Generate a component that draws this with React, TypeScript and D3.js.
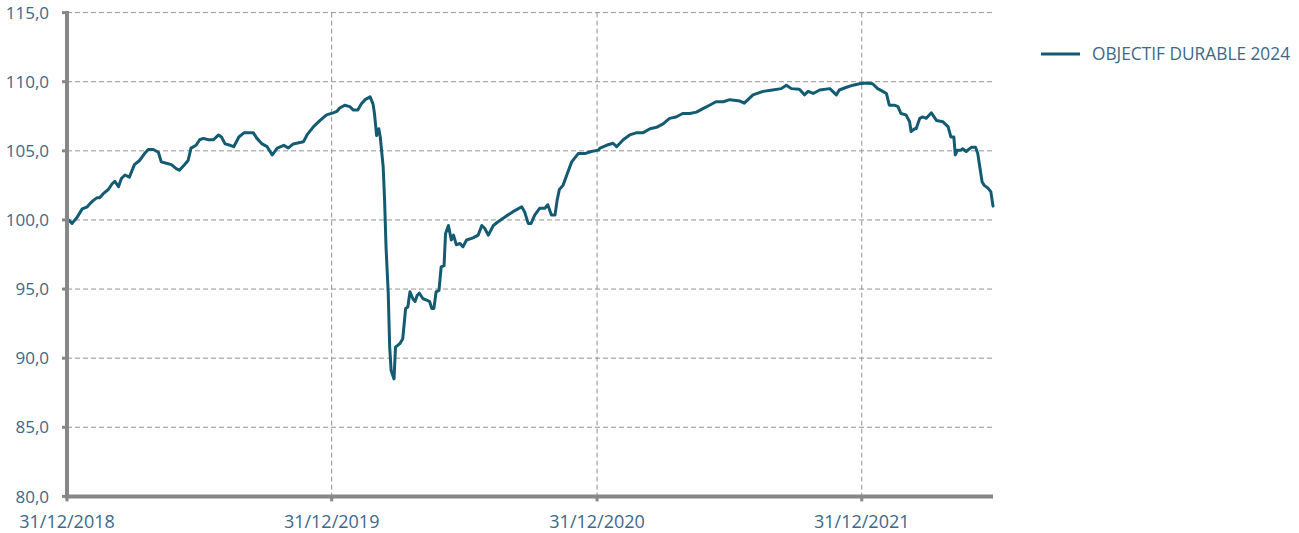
import React from "react";
import * as d3 from "d3";

const seriesName = "OBJECTIF DURABLE 2024";

const dates = [
  "2018-12-31","2019-01-02","2019-01-07","2019-01-14","2019-01-21","2019-01-28","2019-02-01","2019-02-05","2019-02-10","2019-02-14",
  "2019-02-19","2019-02-26","2019-03-03","2019-03-07","2019-03-12","2019-03-16","2019-03-21","2019-03-27","2019-04-03","2019-04-10",
  "2019-04-17","2019-04-22","2019-04-29","2019-05-06","2019-05-10","2019-05-17","2019-05-24","2019-05-31","2019-06-04","2019-06-11",
  "2019-06-16","2019-06-20","2019-06-27","2019-07-02","2019-07-07","2019-07-14","2019-07-21","2019-07-28","2019-08-01","2019-08-06",
  "2019-08-13","2019-08-18","2019-08-25","2019-09-01","2019-09-14","2019-09-19","2019-09-26","2019-10-03","2019-10-10","2019-10-17",
  "2019-10-26","2019-11-01","2019-11-08","2019-11-22","2019-11-27","2019-12-06","2019-12-15","2019-12-24","2020-01-02","2020-01-07",
  "2020-01-11","2020-01-18","2020-01-25","2020-01-30","2020-02-05","2020-02-10","2020-02-15","2020-02-22","2020-02-26","2020-02-28",
  "2020-03-02","2020-03-05","2020-03-07","2020-03-11","2020-03-13","2020-03-15","2020-03-18","2020-03-20","2020-03-22","2020-03-26",
  "2020-03-28","2020-04-03","2020-04-07","2020-04-11","2020-04-14","2020-04-17","2020-04-21","2020-04-24","2020-04-27","2020-04-30",
  "2020-05-05","2020-05-10","2020-05-14","2020-05-17","2020-05-20","2020-05-23","2020-05-27","2020-05-30","2020-06-03","2020-06-05",
  "2020-06-09","2020-06-13","2020-06-16","2020-06-20","2020-06-25","2020-06-29","2020-07-04","2020-07-13","2020-07-20","2020-07-25",
  "2020-07-29","2020-08-03","2020-08-10","2020-08-16","2020-08-23","2020-08-30","2020-09-06","2020-09-13","2020-09-18","2020-09-22",
  "2020-09-27","2020-10-01","2020-10-06","2020-10-13","2020-10-20","2020-10-24","2020-10-29","2020-11-03","2020-11-06","2020-11-09",
  "2020-11-14","2020-11-21","2020-11-26","2020-12-05","2020-12-14","2020-12-23","2021-01-02","2021-01-04","2021-01-13","2021-01-22",
  "2021-01-27","2021-02-05","2021-02-14","2021-02-23","2021-03-04","2021-03-14","2021-03-23","2021-04-01","2021-04-10","2021-04-19",
  "2021-04-28","2021-05-08","2021-05-17","2021-05-26","2021-06-04","2021-06-13","2021-06-23","2021-07-02","2021-07-16","2021-07-22",
  "2021-08-03","2021-08-17","2021-08-30","2021-09-11","2021-09-18","2021-09-25","2021-10-06","2021-10-13","2021-10-18","2021-10-25",
  "2021-11-03","2021-11-17","2021-11-26","2021-11-30","2021-12-10","2021-12-19","2021-12-28","2022-01-06","2022-01-15","2022-01-22",
  "2022-01-29","2022-02-03","2022-02-07","2022-02-14","2022-02-19","2022-02-23","2022-03-02","2022-03-07","2022-03-09","2022-03-14",
  "2022-03-16","2022-03-21","2022-03-25","2022-03-30","2022-04-06","2022-04-13","2022-04-22","2022-04-29","2022-05-03","2022-05-07",
  "2022-05-09","2022-05-12","2022-05-17","2022-05-19","2022-05-24","2022-05-31","2022-06-06","2022-06-09","2022-06-11","2022-06-15",
  "2022-06-18","2022-06-23","2022-06-27","2022-06-30"
];

const values = [
  100.0,100.0,99.75,100.2,100.8,100.95,101.2,101.4,101.6,101.6,
  101.9,102.2,102.6,102.8,102.4,103.0,103.25,103.1,104.0,104.3,
  104.8,105.1,105.1,104.9,104.2,104.1,104.0,103.7,103.6,104.0,
  104.3,105.2,105.4,105.8,105.9,105.8,105.8,106.15,106.0,105.5,
  105.4,105.3,106.0,106.3,106.3,105.9,105.5,105.3,104.7,105.2,
  105.4,105.2,105.5,105.65,106.15,106.75,107.2,107.6,107.75,107.85,
  108.1,108.3,108.2,107.95,107.95,108.4,108.7,108.9,108.4,107.7,
  106.1,106.6,106.0,103.85,101.4,98.0,94.7,90.8,89.1,88.5,
  90.8,91.05,91.4,93.6,93.7,94.8,94.3,94.1,94.55,94.7,
  94.3,94.2,94.1,93.6,93.6,94.8,94.9,96.6,96.7,99.0,
  99.6,98.55,98.9,98.2,98.3,98.05,98.55,98.7,98.9,99.6,
  99.4,98.9,99.6,99.85,100.1,100.35,100.6,100.8,100.95,100.6,
  99.75,99.75,100.35,100.85,100.85,101.1,100.35,100.35,101.45,102.2,
  102.5,103.5,104.2,104.8,104.8,104.95,105.05,105.2,105.4,105.55,
  105.3,105.8,106.15,106.3,106.3,106.6,106.7,106.95,107.35,107.45,
  107.7,107.7,107.8,108.05,108.3,108.55,108.55,108.7,108.6,108.45,
  109.05,109.3,109.4,109.5,109.75,109.5,109.45,109.05,109.3,109.15,
  109.4,109.5,109.05,109.4,109.6,109.75,109.85,109.9,109.85,109.5,
  109.3,109.15,108.3,108.3,108.2,107.7,107.6,107.1,106.4,106.6,
  106.6,107.35,107.45,107.35,107.75,107.2,107.1,106.75,106.0,106.0,
  104.7,105.05,105.05,105.15,104.95,105.25,105.25,104.8,104.1,102.75,
  102.5,102.3,102.05,101.0
];

const yTicks = [80, 85, 90, 95, 100, 105, 110, 115];
const xTickDates = ["2018-12-31", "2019-12-31", "2020-12-31", "2021-12-31"];
const xTickLabels = ["31/12/2018", "31/12/2019", "31/12/2020", "31/12/2021"];
const domainStart = "2018-12-31";
const domainEnd = "2022-06-30";

const parse = d3.timeParse("%Y-%m-%d");

export default function App() {
  const W = 1299, H = 533;
  const left = 67, right = 993, top = 12.6, bottom = 496.4;
  const x = d3.scaleTime()
    .domain([parse(domainStart)!, parse(domainEnd)!])
    .range([left, right]);
  const y = d3.scaleLinear().domain([80, 115]).range([bottom, top]);
  const data = dates.map((d, i) => ({ date: parse(d)!, value: values[i] }));
  const line = d3.line<{ date: Date; value: number }>()
    .x((d) => x(d.date))
    .y((d) => y(d.value));
  const fmt = (v: number) => v.toFixed(1).replace(".", ",");
  const textColor = "#3d6889";
  const axisColor = "#878787";
  const gridColor = "#949494";
  const lineColor = "#135b73";
  const font = "'Open Sans', sans-serif";

  return (
    <div style={{ position: "absolute", left: 0, top: 0 }}>
      <svg width={W} height={H} style={{ display: "block", background: "#fff" }}>
        {yTicks.filter((t) => t !== 80).map((t) => (
          <line key={"hg" + t} x1={left} x2={right} y1={y(t)} y2={y(t)}
            stroke={gridColor} strokeWidth={1} strokeDasharray="5,3" />
        ))}
        {xTickDates.slice(1).map((d) => (
          <line key={"vg" + d} x1={x(parse(d)!)} x2={x(parse(d)!)} y1={top} y2={bottom}
            stroke={gridColor} strokeWidth={1} strokeDasharray="5,3" />
        ))}
        <path d={line(data) || ""} fill="none" stroke={lineColor} strokeWidth={3}
          strokeLinejoin="round" strokeLinecap="round" />
        <line x1={left} x2={left} y1={top - 1.5} y2={bottom + 2} stroke={axisColor} strokeWidth={4} />
        <line x1={left - 2} x2={right} y1={bottom} y2={bottom} stroke={axisColor} strokeWidth={4} />
        {yTicks.map((t) => (
          <line key={"yt" + t} x1={left - 5} x2={left} y1={y(t)} y2={y(t)} stroke={axisColor} strokeWidth={3} />
        ))}
        {xTickDates.map((d) => (
          <line key={"xt" + d} x1={x(parse(d)!)} x2={x(parse(d)!)} y1={bottom} y2={bottom + 5}
            stroke={axisColor} strokeWidth={3} />
        ))}
        {yTicks.map((t) => (
          <text key={"yl" + t} x={49} y={y(t)} dy="0.36em" textAnchor="end"
            fontFamily={font} fontSize={17} fill={textColor}>{fmt(t)}</text>
        ))}
        {xTickDates.map((d, i) => (
          <text key={"xl" + d} x={x(parse(d)!)} y={528} textAnchor="middle"
            fontFamily={font} fontSize={18} fill={textColor}>{xTickLabels[i]}</text>
        ))}
        <line x1={1041} x2={1080} y1={54} y2={54} stroke={lineColor} strokeWidth={3} />
        <text x={1092} y={59.5} fontFamily={font} fontSize={17.3} fill={textColor}>{seriesName}</text>
      </svg>
    </div>
  );
}
